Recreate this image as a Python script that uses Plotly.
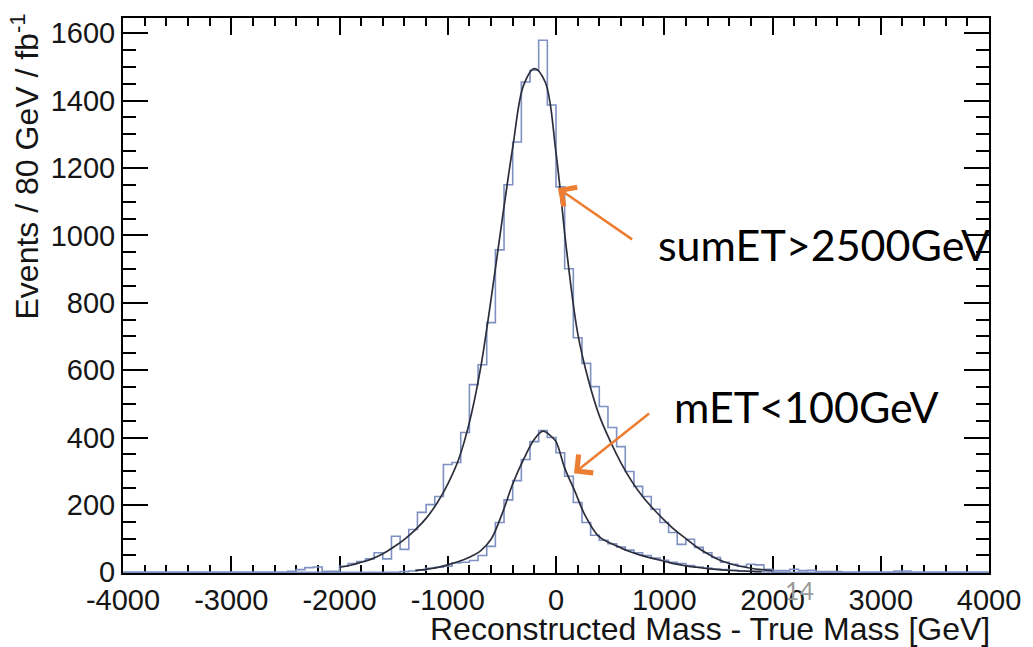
import numpy as np
import plotly.graph_objects as go

# Binning: 80 GeV bins across [-4000, 4000]
BIN_WIDTH = 80
X_MIN, X_MAX = -4000, 4000

# Axis tick positions and labels (plain hyphen minus, as in the ROOT style)
x_tick_vals = [-4000, -3000, -2000, -1000, 0, 1000, 2000, 3000, 4000]
x_tick_text = ["-4000", "-3000", "-2000", "-1000", "0", "1000", "2000", "3000", "4000"]

# sumET > 2500 GeV sample: counts per bin, first bin starts at -2480 GeV
sumet_first_edge = -2480
sumet_counts = [
    3, 8, 14, 16, 3, 3, 18, 26, 32, 40,
    58, 40, 107, 68, 127, 178, 201, 225, 320, 326,
    415, 557, 616, 741, 957, 1150, 1277, 1455, 1490, 1579,
    1387, 1144, 901, 696, 620, 551, 492, 430, 373, 299,
    255, 225, 187, 148, 118, 83, 98, 74, 58, 44,
    30, 24, 18, 24, 22, 9, 5, 5, 9, 5,
    6, 2, 2, 2, 0, 0, 0, 0, 0, 0,
    4, 4,
]

# mET < 100 GeV sample: counts per bin, first bin starts at -1440 GeV
met_first_edge = -1440
met_counts = [
    2, 4, 6, 12, 15, 18, 28, 30, 35, 50,
    77, 148, 215, 272, 335, 388, 421, 400, 355, 285,
    207, 148, 110, 95, 85, 75, 66, 58, 50, 42,
    36, 30, 26, 20, 16, 13, 10, 8, 6, 4,
    3, 2, 1,
]

# Fitted line shapes (GeV, events)
sumet_fit_x = [-2000, -1900, -1800, -1700, -1600, -1500, -1400, -1300, -1200, -1100,
               -1000, -900, -800, -700, -600, -500, -400, -300, -200, -100,
               0, 100, 200, 300, 400, 500, 600, 700, 800, 900,
               1000, 1100, 1200, 1300, 1400, 1500, 1600, 1700, 1800, 1900, 2000]
sumet_fit_y = [15, 21, 30, 40, 55, 75, 98, 126, 160, 205,
               262, 335, 445, 600, 810, 1040, 1260, 1445, 1495, 1455,
               1245, 950, 710, 570, 465, 390, 325, 270, 225, 188,
               155, 125, 100, 75, 55, 38, 26, 18, 12, 8, 5]

met_fit_x = [-1300, -1200, -1100, -1000, -900, -800, -700, -600, -500, -400,
             -300, -200, -120, -50, 0, 80, 175, 270, 390, 480,
             570, 660, 750, 880, 1000, 1100, 1200, 1300, 1400, 1500,
             1600, 1700, 1800, 1900]
met_fit_y = [6, 9, 14, 22, 32, 45, 63, 98, 172, 262,
             335, 395, 419, 405, 388, 310, 240, 168, 108, 90,
             77, 64, 54, 42, 33, 25, 19, 15, 11, 8,
             6, 4, 3, 2]

HIST_COLOR = "#7f90c2"
FIT_COLOR = "#2c2e3c"
ARROW_COLOR = "#ED7D31"

edges = np.arange(X_MIN, X_MAX + BIN_WIDTH, BIN_WIDTH)
n_bins = len(edges) - 1


def full_counts(first_edge, counts):
    arr = np.zeros(n_bins)
    start = (first_edge - X_MIN) // BIN_WIDTH
    arr[start:start + len(counts)] = counts
    return arr


def step_trace(counts):
    return go.Scatter(
        x=edges, y=np.append(counts, counts[-1]),
        mode="lines", line=dict(shape="hv", color=HIST_COLOR, width=1.6),
        hoverinfo="skip", showlegend=False,
    )


fig = go.Figure()
fig.add_trace(step_trace(full_counts(sumet_first_edge, sumet_counts)))
fig.add_trace(step_trace(full_counts(met_first_edge, met_counts)))
fig.add_trace(go.Scatter(x=sumet_fit_x, y=sumet_fit_y, mode="lines",
                         line=dict(shape="spline", color=FIT_COLOR, width=1.7),
                         showlegend=False))
fig.add_trace(go.Scatter(x=met_fit_x, y=met_fit_y, mode="lines",
                         line=dict(shape="spline", color=FIT_COLOR, width=1.7),
                         showlegend=False))

axis_font = dict(family="Liberation Sans, Arial, sans-serif", size=29, color="#151515")

fig.update_xaxes(
    range=[X_MIN, X_MAX], tickmode="array", tickvals=x_tick_vals, ticktext=x_tick_text,
    showline=True, linecolor="black", linewidth=2, mirror="allticks",
    ticks="inside", ticklen=17, tickwidth=1.5, tickcolor="black",
    minor=dict(ticks="inside", ticklen=8, dtick=200, tickwidth=1.5, tickcolor="black"),
    showgrid=False, zeroline=False, tickfont=axis_font, layer="below traces",
)
fig.update_yaxes(
    range=[-2, 1645], dtick=200, tick0=0,
    showline=True, linecolor="black", linewidth=2, mirror="allticks",
    ticks="inside", ticklen=25, tickwidth=1.5, tickcolor="black",
    minor=dict(ticks="inside", ticklen=13, dtick=50, tickwidth=1.5, tickcolor="black"),
    showgrid=False, zeroline=False, tickfont=axis_font, layer="below traces",
)

title_font = dict(family="Liberation Sans, Arial, sans-serif", size=32, color="#151515")
label_font = dict(family="Lato, Open Sans, sans-serif", size=43, color="black")

annotations = [
    dict(text="Reconstructed Mass - True Mass [GeV]", xref="paper", yref="paper",
         x=1.003, y=-0.1, xanchor="right", yanchor="middle",
         showarrow=False, font=title_font),
    dict(text="Events / 80 GeV / fb<sup>-1</sup>", xref="paper", yref="paper",
         x=-0.113, y=1.012, xanchor="center", yanchor="top", textangle=-90,
         showarrow=False, font=title_font),
    dict(text="sumET>2500GeV", xref="x", yref="y", x=920, y=974,
         xanchor="left", yanchor="middle", showarrow=False, font=label_font),
    dict(text="mET<100GeV", xref="x", yref="y", x=1076, y=493,
         xanchor="left", yanchor="middle", showarrow=False, font=label_font),
    dict(text="", xref="x", yref="y", x=18, y=1140, axref="x", ayref="y",
         ax=717, ay=985, showarrow=True, arrowhead=4, arrowsize=1.8,
         arrowwidth=2.5, arrowcolor=ARROW_COLOR, standoff=0),
    dict(text="", xref="x", yref="y", x=166, y=294, axref="x", ayref="y",
         ax=874, ay=475, showarrow=True, arrowhead=4, arrowsize=1.8,
         arrowwidth=2.5, arrowcolor=ARROW_COLOR, standoff=0),
    dict(text="14", xref="paper", yref="paper", x=0.7816, y=-0.031,
         xanchor="center", yanchor="middle", showarrow=False,
         font=dict(family="Lato, sans-serif", size=25, color="#9a9a9a")),
]

fig.update_layout(
    width=1033, height=647,
    margin=dict(l=123, r=40, t=18, b=74),
    paper_bgcolor="white", plot_bgcolor="white",
    annotations=annotations, showlegend=False,
)

fig.write_html("out.html")
